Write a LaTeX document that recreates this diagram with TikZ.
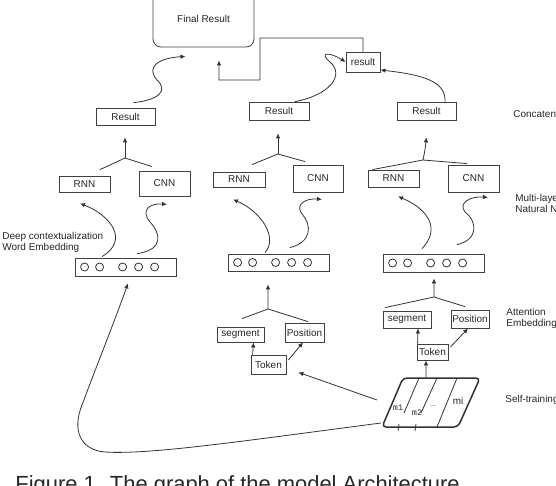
\documentclass[tikz,border=0pt]{standalone}
\usepackage{fontspec}
\setmainfont{Liberation Sans}
\setmonofont{Liberation Mono}
\usetikzlibrary{arrows.meta}

\begin{document}
\begin{tikzpicture}[x=1bp,y=-1bp,line width=0.8bp,draw=black!80,
	>={Latex[length=5bp,width=4.5bp]},
	every node/.style={inner sep=0pt,text=black!85,font=\fontsize{10}{11.5}\selectfont},
	box/.style={draw=black!75},
	sz/.style 2 args={minimum width=#1bp,minimum height=#2bp}]
	\useasboundingbox (0,0) rectangle (556,486);
	% boxes
	\node[box,rounded corners=8bp,sz={101}{57}] (final) at (203.5,18.5) {\raisebox{-3.5bp}{Final Result}};
	\node[box,sz={34}{20}] (small) at (363,62) {result};
	\node[box,sz={59}{17}] (res1) at (125.5,116.5) {Result};
	\node[box,sz={60}{18}] (res2) at (279,111) {Result};
	\node[box,sz={59}{18}] (res3) at (426.5,111) {Result};
	\node[box,sz={51}{16}] (rnn1) at (84.5,184) {RNN};
	\node[box,sz={51}{25}] (cnn1) at (164.5,183.5) {CNN};
	\node[box,sz={52}{15}] (rnn2) at (239,179.5) {RNN};
	\node[box,sz={50}{27}] (cnn2) at (318,178.5) {CNN};
	\node[box,sz={51}{17}] (rnn3) at (393.5,178.5) {RNN};
	\node[box,sz={51}{27}] (cnn3) at (473.5,178.5) {CNN};
	\node[box,sz={101}{18}] (emb1) at (125.5,267) {};
	\node[box,sz={101}{17}] (emb2) at (278.5,262.5) {};
	\node[box,sz={101}{18}] (emb3) at (433.5,263) {};
	\foreach \e in {emb1,emb2,emb3}
	{
		\foreach \dx in {10,25,48,64,80}
			\draw ([xshift=\dx bp]\e.west) circle (4bp);
	}
	\node[box,sz={47}{15}] (seg2) at (240.5,334.5) {segment};
	\node[box,sz={39}{19}] (pos2) at (304.5,332.5) {Position};
	\node[box,sz={35}{19}] (tok2) at (268.5,364.5) {Token};
	\node[box,sz={48}{17}] (seg3) at (407,319.5) {segment};
	\node[box,sz={38}{18}] (pos3) at (470,319) {Position};
	\node[box,sz={31}{16}] (tok3) at (432.5,352) {Token};

	% concatenation
	\draw[->] ([xshift=8bp,yshift=5bp]res1.north) .. controls (160,100) and (168,90) .. (157,80)
		.. controls (145,66) and (160,58) .. ([xshift=-18bp,yshift=-9bp]final.south);
	\draw[->] (small.north) |- (260,38) |- (219,80) -- ([xshift=15.5bp,yshift=-13bp]final.south);
	\draw[->] ([xshift=16bp]res2.north) .. controls (330,95) and (345,75) .. (330,62)
		.. controls (318,52) and (330,52) .. (small.west);
	\draw[->] ([xshift=18.5bp]res3.north) .. controls (446,82) and (425,75) .. ([yshift=-8bp]small.east);

	% forks above RNN / CNN
	\coordinate (f1) at (125,158);
	\coordinate (f2) at (278,154);
	\coordinate (f3) at (423,160);
	\draw ([xshift=15.5bp,yshift=6bp]rnn1.north) -- (f1) -- ([xshift=-12.5bp,yshift=4bp]cnn1.north);
	\draw[->] (f1) -- ([xshift=-0.5bp,yshift=-12bp]res1.south);
	\draw ([xshift=13bp,yshift=7bp]rnn2.north) -- (f2) -- ([xshift=-13bp,yshift=3bp]cnn2.north);
	\draw[->] (f2) -- ([xshift=-1bp,yshift=-13bp]res2.south);
	\draw ([xshift=-21bp]rnn3.north) -- (f3) -- ([xshift=-6.5bp,yshift=1bp]cnn3.north);
	\draw[->] (f3) .. controls (425,150) .. ([yshift=-17bp]res3.south);

	% embeddings to RNN / CNN
	\draw[->] ([xshift=-23.5bp,yshift=1bp]emb1.north) .. controls (130,240) and (110,215) .. ([xshift=-4.5bp,yshift=-11bp]rnn1.south);
	\draw[->] ([xshift=11.5bp,yshift=4bp]emb1.north) .. controls (165,250) and (160,232) .. (150,222)
		.. controls (140,210) and (150,203) .. ([xshift=2.5bp,yshift=-8bp]cnn1.south);
	\draw[->] ([xshift=-13.5bp,yshift=1bp]emb2.north) .. controls (278,238) and (262,212) .. ([xshift=-6bp,yshift=-12bp]rnn2.south);
	\draw[->] ([xshift=11.5bp,yshift=6bp]emb2.north) .. controls (312,242) and (312,225) .. (302,214)
		.. controls (295,205) and (305,198) .. ([xshift=4bp,yshift=-7bp]cnn2.south);
	\draw[->] ([xshift=-11.5bp,yshift=5bp]emb3.north) .. controls (440,230) and (430,210) .. ([xshift=4.5bp,yshift=-9bp]rnn3.south);
	\draw[->] ([xshift=23.5bp,yshift=9bp]emb3.north) .. controls (478,240) and (478,222) .. (465,212)
		.. controls (458,203) and (470,196) .. ([xshift=14.5bp,yshift=-5bp]cnn3.south);

	% forks above segment / Position
	\coordinate (f4) at (268,309);
	\coordinate (f5) at (434,297);
	\draw ([xshift=1.5bp,yshift=8bp]seg2.north) -- (f4) -- ([xshift=3.5bp,yshift=1bp]pos2.north);
	\draw[->] (f4) -- ([xshift=-10.5bp,yshift=-13bp]emb2.south);
	\draw ([xshift=-22bp,yshift=3bp]seg3.north) -- (f5) -- ([xshift=-5bp,yshift=3bp]pos3.north);
	\draw[->] (f5) -- ([xshift=0.5bp,yshift=-6bp]emb3.south);

	% tokens
	\draw[->] ([xshift=2bp]tok2.north west) -- ([xshift=13bp]seg2.south);
	\draw[->] ([xshift=2bp,yshift=4.5bp]tok2.east) -- ([xshift=-1.5bp]pos2.south);
	\draw[->] ([xshift=1bp]tok3.north west) -- ([xshift=11bp]seg3.south);
	\draw[->] ([xshift=2bp,yshift=5bp]tok3.east) -- ([xshift=-2bp]pos3.south);

	% self-training block
	\coordinate (sa) at (382,427);
	\coordinate (sb) at (458,427);
	\coordinate (sc) at (480,378);
	\coordinate (sd) at (403,378);
	\draw[line width=1.5bp,rounded corners=4bp] (sa) -- (sb) -- (sc) -- (sd) -- cycle;
	\draw (419,378) -- (404,413);
	\draw (437,378) -- (421,413);
	\draw (457,378) -- (437,427);
	\draw (399,424) -- (398,431);
	\draw (416,424) -- (415,431);
	\node[font=\ttfamily\fontsize{8.5}{8.5}\selectfont] (m1) at (398,408) {m1};
	\node[font=\ttfamily\fontsize{8.5}{8.5}\selectfont] (m2) at (417,413) {m2};
	\node[font=\fontsize{7}{7}\selectfont] (mdots) at (433,406) {...};
	\node (mi) at (458,401) {mi};
	\coordinate (sl) at (377,400);
	\coordinate (st) at (426,378);
	\coordinate (sb0) at (381,423);
	\draw[->] (sl) -- ([xshift=12bp,yshift=2bp]tok2.south east);
	\draw[->] (st) -- ([xshift=-6.5bp]tok3.south);
	\draw[->] (sb0) .. controls (250,440) and (150,455) .. (105,452)
		.. controls (80,450) and (72,430) .. (82,405)
		.. controls (95,370) and (115,320) .. ([xshift=2.5bp,yshift=-7bp]emb1.south);

	% labels
	\node[anchor=west,align=left] (deeplbl) at (2,242.5) {Deep contextualization\\Word Embedding};
	\node[anchor=west] (catlbl) at (513,114) {Concaten};
	\node[anchor=west,align=left] (mlplbl) at (515,203.5) {Multi-laye\\Natural N};
	\node[anchor=west,align=left] (attlbl) at (506,318.5) {Attention\\Embedding};
	\node[anchor=west] (selflbl) at (505,400) {Self-training};
	\node[anchor=base west,font=\fontsize{22}{26}\selectfont] (caption) at (15,491) {Figure 1. The graph of the model Architecture};
\end{tikzpicture}
\end{document}
